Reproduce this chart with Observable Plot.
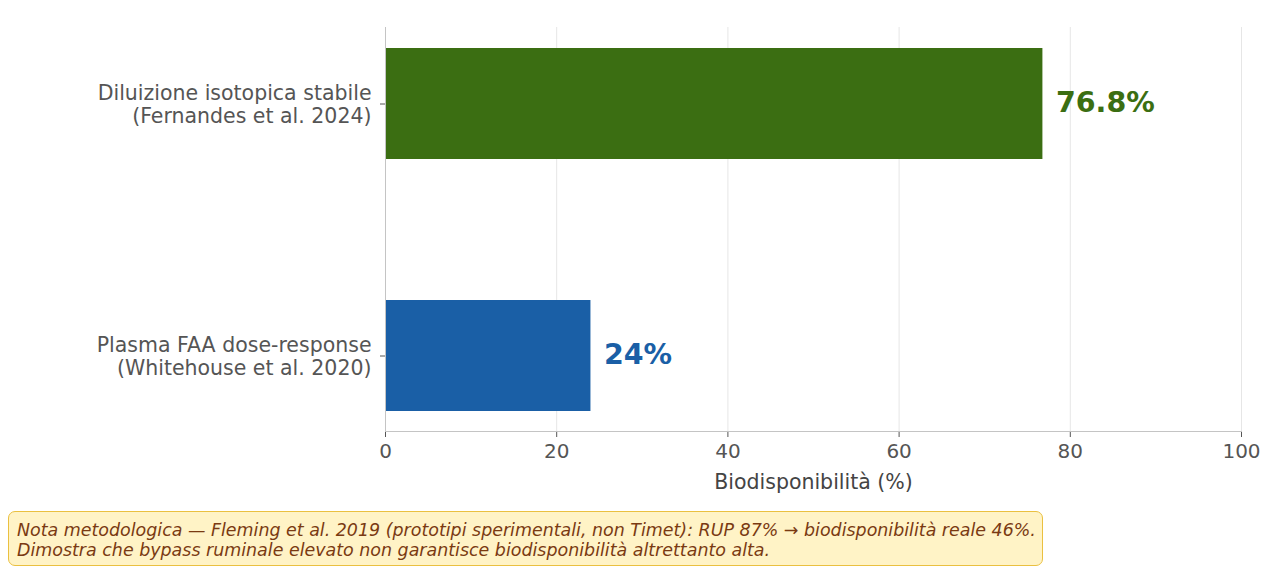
<!DOCTYPE html>
<html>
<head>
<meta charset="utf-8">
<script src="https://cdn.jsdelivr.net/npm/d3@7"></script>
<script src="https://cdn.jsdelivr.net/npm/@observablehq/plot@0.6"></script>
<style>
  html, body { margin: 0; padding: 0; background: #fff; font-family: "DejaVu Sans", sans-serif; }
  #chart svg { display: block; }
  .note {
    position: absolute; left: 8px; top: 511px; width: 1015px; height: 37px;
    padding: 8px 10px 8px 8px; white-space: nowrap; overflow: visible;
    background: #fff3c6; border: 1.5px solid #eac040; border-radius: 7px;
    color: #7a3a12; font-style: italic; font-size: 17.45px; line-height: 20px;
    font-family: "DejaVu Sans", sans-serif;
  }
</style>
</head>
<body>
<div id="chart"></div>
<div class="note">Nota metodologica — Fleming et al. 2019 (prototipi sperimentali, non Timet): RUP 87% → biodisponibilità reale 46%.<br>Dimostra che bypass ruminale elevato non garantisce biodisponibilità altrettanto alta.</div>
<script>
const methods = ["Diluizione isotopica stabile\n(Fernandes et al. 2024)", "Plasma FAA dose-response\n(Whitehouse et al. 2020)"];
const values = [76.8, 24];
const labels = ["76.8%", "24%"];
const colors = ["#3b6e12", "#1a5fa6"];
const xTicks = [0, 20, 40, 60, 80, 100];

const data = methods.map((m, i) => ({method: m, value: values[i], label: labels[i], color: colors[i]}));

const plot = Plot.plot({
  width: 1261,
  height: 500,
  marginTop: 27,
  marginBottom: 69,
  marginLeft: 385,
  marginRight: 20,
  style: {fontFamily: "DejaVu Sans, sans-serif", fontSize: "20px", color: "#555", background: "#fff"},
  x: {domain: [0, 100], ticks: xTicks, label: null},
  y: {domain: methods, paddingInner: 0.561, paddingOuter: 0.079, label: null},
  marks: [
    Plot.gridX(xTicks, {stroke: "#e6e6e6", strokeOpacity: 1, strokeWidth: 1}),
    Plot.barX(data, {x: "value", y: "method", fill: "color"}),
    Plot.text(data, {x: "value", y: "method", text: "label", fill: "color", textAnchor: "start", dx: 13, dy: -1, fontSize: 28.5, fontWeight: "bold"}),
    Plot.axisX({ticks: xTicks, tickSize: 6, tickPadding: 6, stroke: "#555", fill: "#555", fontSize: 20, label: null}),
    Plot.axisY({tickSize: 5, tickPadding: 9, fill: "#555", stroke: "#555", fontSize: 20.5, lineHeight: 1.12, label: null}),
    Plot.frame({anchor: "left", stroke: "#c4c4c4", strokeOpacity: 1}),
    Plot.frame({anchor: "bottom", stroke: "#c4c4c4", strokeOpacity: 1}),
    Plot.text(["Biodisponibilità (%)"], {frameAnchor: "bottom", dy: 57, fill: "#444", fontSize: 20.5})
  ]
});
document.getElementById("chart").appendChild(plot);
</script>
</body>
</html>
